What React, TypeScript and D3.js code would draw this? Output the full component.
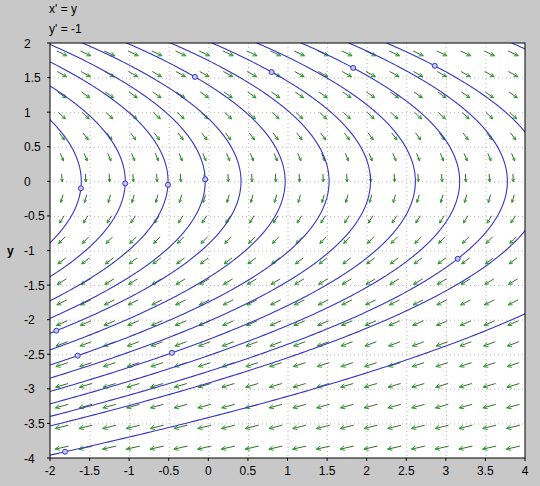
import React from "react";
import * as d3 from "d3";

// System: x' = y, y' = -1
const titleLines = ["x' = y", "y' = -1"];
const xTicks = [-2, -1.5, -1, -0.5, 0, 0.5, 1, 1.5, 2, 2.5, 3, 3.5, 4];
const yTicks = [-4, -3.5, -3, -2.5, -2, -1.5, -1, -0.5, 0, 0.5, 1, 1.5, 2];
// initial points of the computed solutions (the small circles)
const initX = [-1.61, -1.05, -0.51, -0.04, -0.17, 0.8, 1.83, 2.86, 3.15, -1.92, -1.65, -0.46, -1.81];
const initY = [-0.1, -0.03, -0.05, 0.03, 1.51, 1.58, 1.64, 1.67, -1.12, -2.16, -2.52, -2.48, -3.91];
const fieldCols = 20;
const fieldRows = 20;

const W = 540, H = 486;
const M = { left: 50, right: 525, top: 43, bottom: 458 };

export default function App() {
  const x = d3.scaleLinear().domain([-2, 4]).range([M.left, M.right]);
  const y = d3.scaleLinear().domain([-4, 2]).range([M.bottom, M.top]);

  const fx = (_x: number, yy: number) => yy;
  const fy = (_x: number, _y: number) => -1;

  // direction field
  const arrows: { x1: number; y1: number; x2: number; y2: number; h1: [number, number]; h2: [number, number] }[] = [];
  for (let i = 0; i < fieldCols; i++) {
    for (let j = 0; j < fieldRows; j++) {
      const dx0 = -2 + (6 * (i + 0.5)) / fieldCols;
      const dy0 = -4 + (6 * (j + 0.5)) / fieldRows;
      const vx = fx(dx0, dy0), vy = fy(dx0, dy0);
      const m = Math.hypot(vx, vy);
      const cx = x(dx0), cy = y(dy0);
      const px = vx * (x(1) - x(0));
      const py = vy * (y(1) - y(0));
      const pm = Math.hypot(px, py);
      const ux = px / pm, uy = py / pm;
      const len = 18.6 * (m / (m + 1.33));
      const x1 = cx - (ux * len) / 2, y1 = cy - (uy * len) / 2;
      const x2 = cx + (ux * len) / 2, y2 = cy + (uy * len) / 2;
      const hl = Math.min(5, len * 0.4);
      const a = 0.45;
      const rot = (ang: number): [number, number] => {
        const c = Math.cos(ang), s = Math.sin(ang);
        return [x2 - hl * (ux * c - uy * s), y2 - hl * (ux * s + uy * c)];
      };
      arrows.push({ x1, y1, x2, y2, h1: rot(a), h2: rot(-a) });
    }
  }

  // solution curves: x = C - y^2/2
  const line = d3.line<[number, number]>().x((d) => x(d[0])).y((d) => y(d[1]));
  const curves = initX.map((x0, k) => {
    const y0 = initY[k];
    const C = x0 + (y0 * y0) / 2;
    const pts: [number, number][] = d3.range(-4.3, 2.3001, 0.02).map((yy) => [C - (yy * yy) / 2, yy]);
    return line(pts) as string;
  });

  const font = "'Liberation Sans', Arial, sans-serif";

  return (
    <svg width={W} height={H} style={{ position: "absolute", left: 0, top: 0, display: "block" }} fontFamily={font}>
      <defs>
        <clipPath id="plotclip">
          <rect x={M.left} y={M.top} width={M.right - M.left} height={M.bottom - M.top} />
        </clipPath>
      </defs>
      <rect x={0} y={0} width={W} height={H} fill="#c8c8c8" />
      <rect x={M.left} y={M.top} width={M.right - M.left} height={M.bottom - M.top} fill="#ffffff" />
      {/* grid */}
      <g stroke="#b8b8b8" strokeWidth={1} strokeDasharray="1,3">
        {xTicks.slice(1, -1).map((t) => (
          <line key={"gx" + t} x1={x(t) + 0.5} x2={x(t) + 0.5} y1={M.top} y2={M.bottom} />
        ))}
        {yTicks.slice(1, -1).map((t) => (
          <line key={"gy" + t} x1={M.left} x2={M.right} y1={y(t) + 0.5} y2={y(t) + 0.5} />
        ))}
      </g>
      {/* direction field */}
      <g clipPath="url(#plotclip)">
        {arrows.map((a, k) => (
          <g key={"a" + k}>
            <line x1={a.x1} y1={a.y1} x2={a.x2} y2={a.y2} stroke="#3b6b30" strokeWidth={1} />
            <polyline
              points={`${a.h1[0]},${a.h1[1]} ${a.x2},${a.y2} ${a.h2[0]},${a.h2[1]}`}
              fill="none"
              stroke="#22a022"
              strokeWidth={1}
            />
          </g>
        ))}
      </g>
      {/* solutions */}
      <g clipPath="url(#plotclip)">
        {curves.map((d, k) => (
          <path key={"c" + k} d={d} fill="none" stroke="#3535c8" strokeWidth={1.1} />
        ))}
        {initX.map((x0, k) => (
          <circle key={"m" + k} cx={x(x0)} cy={y(initY[k])} r={2.5} fill="#c8c8ff" stroke="#3535c8" strokeWidth={1} />
        ))}
      </g>
      {/* frame */}
      <rect x={M.left} y={M.top} width={M.right - M.left} height={M.bottom - M.top} fill="none" stroke="#000" strokeWidth={1} />
      {/* ticks */}
      <g stroke="#000" strokeWidth={1}>
        {xTicks.map((t) => (
          <line key={"tx" + t} x1={x(t)} x2={x(t)} y1={M.bottom} y2={M.bottom + 3} />
        ))}
        {yTicks.map((t) => (
          <line key={"ty" + t} x1={M.left - 3} x2={M.left} y1={y(t)} y2={y(t)} />
        ))}
      </g>
      <g fontSize={12} fill="#000">
        {xTicks.map((t) => (
          <text key={"lx" + t} x={x(t)} y={475} textAnchor="middle">
            {String(t)}
          </text>
        ))}
        {yTicks.map((t) => (
          <text key={"ly" + t} x={24} y={y(t) + 4.5} textAnchor="start">
            {String(t)}
          </text>
        ))}
      </g>
      <text x={7} y={255} fontSize={12} fontWeight="bold" fill="#000">y</text>
      {titleLines.map((s, k) => (
        <text key={"t" + k} x={49} y={13 + k * 20} fontSize={12} fill="#000">
          {s}
        </text>
      ))}
    </svg>
  );
}
